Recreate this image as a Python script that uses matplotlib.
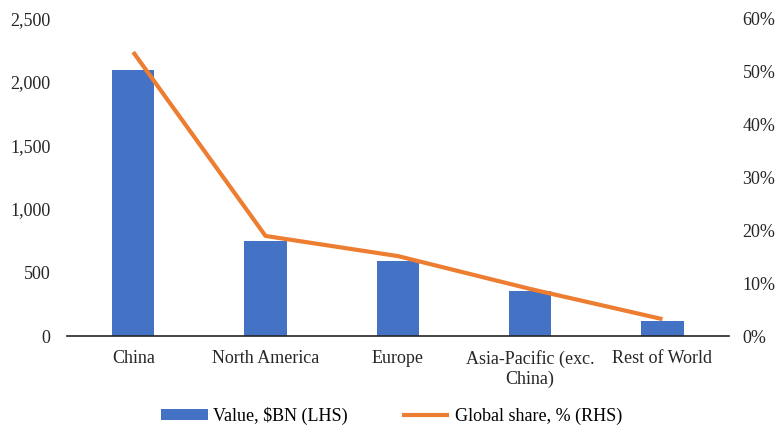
import matplotlib
matplotlib.use('Agg')
import matplotlib.pyplot as plt
from matplotlib.ticker import FuncFormatter

regions = ['China', 'North America', 'Europe', 'Asia-Pacific (exc.\nChina)', 'Rest of World']
value_bn = [2090, 748, 588, 356, 120]
share_pct = [53.6, 18.9, 15.1, 8.9, 3.2]

plt.rcParams.update({'font.family': 'serif', 'font.serif': ['Liberation Serif', 'DejaVu Serif'], 'font.size': 13})

fig = plt.figure(figsize=(7.83, 4.32), dpi=100)
ax = fig.add_axes([0.0856, 0.222, 0.845, 0.736])
x = list(range(len(regions)))
b = ax.bar(x, value_bn, width=0.32, color='#4472C4', label='Value, $BN (LHS)', zorder=2)
ax.set_xlim(-0.5, len(regions) - 0.5)
ax.set_ylim(0, 2500)
ax.set_yticks(range(0, 2501, 500))
ax.yaxis.set_major_formatter(FuncFormatter(lambda v, p: f'{int(v):,}'))
ax.set_xticks(x)
ax.set_xticklabels(regions, color='#262626', linespacing=1.2)
ax.tick_params(axis='x', length=0, pad=10, labelcolor='#262626')
ax.tick_params(axis='y', length=0, pad=12, labelcolor='#262626')
for s in ['top', 'right', 'left']:
    ax.spines[s].set_visible(False)
ax.spines['bottom'].set_color('#262626')
ax.spines['bottom'].set_linewidth(1.2)
ax.spines['bottom'].set_zorder(3)

ax2 = ax.twinx()
l, = ax2.plot(x, share_pct, color='#ED7D31', linewidth=3, label='Global share, % (RHS)', solid_capstyle='butt')
ax2.set_ylim(0, 60)
ax2.set_yticks(range(0, 61, 10))
ax2.yaxis.set_major_formatter(FuncFormatter(lambda v, p: f'{int(v)}%'))
ax2.tick_params(length=0, pad=10, labelcolor='#262626')
for s in ax2.spines.values():
    s.set_visible(False)

fig.legend(handles=[b, l], loc='center', bbox_to_anchor=(0.5, 0.037), ncol=2, frameon=False,
           handlelength=2.6, handleheight=0.5, handletextpad=0.3, columnspacing=3)
fig.savefig('out.png', dpi=100)
